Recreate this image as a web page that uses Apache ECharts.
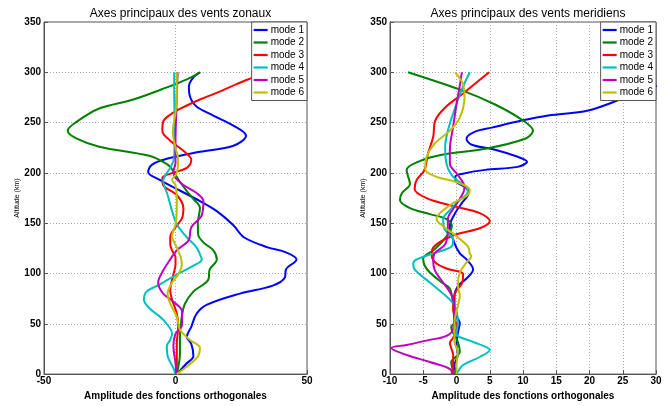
<!DOCTYPE html>
<html>
<head>
<meta charset="utf-8">
<script src="https://cdn.jsdelivr.net/npm/echarts@6/dist/echarts.min.js"></script>
<style>html,body{margin:0;padding:0;background:#fff}#c{width:670px;height:406px}</style>
</head>
<body>
<div id="c"></div>
<script>
// ---------- DATA ----------
const modeNames = ['mode 1','mode 2','mode 3','mode 4','mode 5','mode 6'];
const titles = ['Axes principaux des vents zonaux','Axes principaux des vents meridiens'];
const xName = 'Amplitude des fonctions orthogonales';
const yName = 'Altitude (km)';

// Zonal winds (left panel): altitude (km) and amplitude
const zonalAlt1 = [0,10,18,30,37,47,60,69,80,88,96,104,114,121,126,136,148,162,172,182,193,201,208,214,221,227,237,247,257,266,276,286,295,300];
const zonalMode1 = [0.5,4,6.8,6,4.3,6,8,12,24.5,37,41.6,42,46,42,35,26,22,15.7,9.3,2,-6,-10.4,-9,-3.3,9.3,22,26.8,22,14.4,8,5.5,5.1,6.8,9.3];
const zonalAlt2 = [0,21,37,57,70,82,94,104,114,123,131,139,150,165,175,182,190,198,206,211,217,226,234,242,251,264,273,285,293,300];
const zonalMode2 = [0.5,1.7,1.7,2.4,3.6,6.8,12.5,13,15.7,14.4,10.6,8.6,8.5,9.3,6.5,4.3,2,0,-2,-4.7,-10,-29,-37.5,-41,-37.5,-29,-16,-3.3,4.3,9.3];
const zonalAlt3 = [0,8,30,47,60,74,83,99,109,116,123,129,136,146,155,165,178,188,195,200,205,213,222,232,242,251,260,267,273,281,288,295,300];
const zonalMode3 = [0.5,0.5,0.5,1,0.5,-1.3,-2,-0.8,0,0,-1.3,-2,-2,0,2.5,3,0.5,-4.7,-5,-1,4.3,6,3,-2,-5,-4.7,-0.8,4.3,9.3,17,23,29.5,34];
const zonalAlt4 = [0,6,18,28,34,40,54,65,74,82,89,99,108,114,119,126,136,149,162,178,185,192,200,205,215,250,280,300];
const zonalMode4 = [0,-0.8,-3,-3.3,-2,-1.3,-4.7,-9.7,-12,-11,-6,0.5,7,10,9.3,8,4.3,0.5,-1.3,-3,-4,-4.7,-3.3,-2,-0.5,-0.3,-0.5,-0.5];
const zonalAlt5 = [0,11,28,40,49,62,72,80,91,103,114,123,133,146,158,172,180,188,195,201,210,232,260,300];
const zonalMode5 = [0.3,0,-0.8,0,2.5,2.5,-0.8,-4.7,-6.6,-4.7,-2,0.5,5,6,10,10.6,8,3,0,-0.8,0,0,0.3,0.8];
const zonalAlt6 = [0,10,18,26,34,44,57,70,80,91,99,109,116,126,137,149,162,175,188,193,200,214,225,241,260,280,300];
const zonalMode6 = [0.5,5.5,8.6,9.3,5.5,1.7,0.5,-2,-3,-1.3,1,2.4,2,0.5,-1.3,0,0.5,0.5,0,-1.3,0.5,1,0,-1,0,0.5,0.5];

// Meridional winds (right panel)
const meridAlt1 = [0,9,19,29,41,51,61,78,88,95,104,114,120,130,147,160,170,180,185,191,196,199,203,206,211,216,223,228,234,241,245,252,257,262,275,285,300];
const meridMode1 = [0,-0.3,0.2,0,0.2,0.5,-0.3,-0.3,0.3,1.5,2.5,1.5,0.5,-0.3,-1,-0.2,0.8,1.8,1.5,0,-0.2,0.8,4.3,9.2,10.6,9.2,5.8,2.3,1.5,2.8,5.3,9.8,13.8,19.8,25.4,29.5,36];
const meridAlt2 = [0,12,16,22,32,47,51,68,85,91,101,108,115,124,137,147,154,159,165,173,180,189,197,203,211,218,224,234,242,253,268,282,300];
const meridMode2 = [-0.3,-0.8,-0.3,0.5,0.2,-0.8,-0.3,-0.5,-1,-2.2,-4,-4.8,-5,-3.3,-1.5,-0.7,-1.5,-4,-7,-8.5,-8.2,-7,-7.3,-7.5,-5.8,-2.2,4.3,10.3,11.5,9.8,5.8,0.8,-7.3];
const meridAlt3 = [0,19,26,31,36,46,65,81,90,99,105,110,117,122,130,139,145,152,160,167,175,184,193,203,219,236,252,265,278,300];
const meridMode3 = [-0.5,-0.5,-0.8,-1,-0.5,0,-0.5,-0.2,0.8,1,-1.5,-3,-3.7,-3.7,-2.8,0,3.5,5,3.5,-0.5,-4.5,-6.3,-6,-4.8,-4.3,-3.5,-3.2,-1.7,0.8,4.9];
const meridAlt4 = [0,9,17,24,32,40,51,68,80,91,104,110,114,120,127,134,144,154,163,173,181,186,196,209,226,242,265,283,300];
const meridMode4 = [0,1,3.5,5,2.5,0,0.2,-0.3,-2,-4,-6.3,-6.5,-6,-3.5,-0.7,-0.5,-1.8,-2,-1,0.5,1.7,1.5,-0.5,-1.5,-1.7,-1.3,-0.2,0.8,2];
const meridAlt5 = [0,4,12,19,26,29,34,38,45,65,78,91,98,104,112,120,129,144,154,167,180,186,198,209,223,246,268,287,300];
const meridMode5 = [-0.7,-0.8,-4,-7.5,-9.8,-7.5,-4,-1.5,-0.5,-0.3,-0.7,-2,-2.8,-3.3,-3.5,-3.3,-1.7,-1.3,-1.3,-0.2,1,1.2,0.2,-1,-1,-0.5,0,0.5,0.8];
const meridAlt6 = [0,9,22,32,51,68,78,88,101,111,117,120,127,137,147,154,160,170,177,183,191,196,204,216,229,242,255,275,288,300];
const meridMode6 = [0,0,0.2,-0.3,-0.3,0.2,0.5,0.2,0.5,1.5,2.2,2,1.7,0,-2,-3,-2.5,-0.5,1.5,2,0,-3,-4.7,-4.5,-3.3,-1,0.5,1.2,1,-0.2];

const zonalX = {min:-50, max:50, interval:50};
const meridX = {min:-10, max:30, interval:5};
const yAxisRange = {min:0, max:350, interval:50};

// ---------- STYLE ----------
const colors = ['#0000ff','#008000','#ff0000','#00bfbf','#bf00bf','#bfbf00'];
const font = 'Liberation Sans, Arial, Helvetica, sans-serif';

const zonal = [[zonalAlt1,zonalMode1],[zonalAlt2,zonalMode2],[zonalAlt3,zonalMode3],[zonalAlt4,zonalMode4],[zonalAlt5,zonalMode5],[zonalAlt6,zonalMode6]];
const merid = [[meridAlt1,meridMode1],[meridAlt2,meridMode2],[meridAlt3,meridMode3],[meridAlt4,meridMode4],[meridAlt5,meridMode5],[meridAlt6,meridMode6]];

const pairs = (alt, val) => alt.map((a, i) => [val[i], a]);

const grids = [
  {left:44, right:363, top:22, bottom:28, show:true, borderColor:'#555', borderWidth:1, backgroundColor:'#fff'},
  {left:390, right:14, top:22, bottom:28, show:true, borderColor:'#555', borderWidth:1, backgroundColor:'#fff'}
];

function xAxisDef(idx, r) {
  return {
    type:'value', gridIndex:idx, min:r.min, max:r.max, interval:r.interval,
    name:xName, nameLocation:'middle', nameGap:15,
    nameTextStyle:{fontFamily:font, fontSize:10, fontWeight:'bold', color:'#000'},
    axisLine:{show:true, onZero:false, lineStyle:{color:'#555'}},
    axisTick:{show:true, inside:true, length:4, lineStyle:{color:'#555'}},
    axisLabel:{fontFamily:font, fontSize:10, fontWeight:'bold', color:'#000', margin:2},
    splitLine:{show:true, lineStyle:{color:'#aaa', type:[1,2], width:1}}
  };
}
function yAxisDef(idx) {
  return {
    type:'value', gridIndex:idx, min:yAxisRange.min, max:yAxisRange.max, interval:yAxisRange.interval,
    name:yName, nameLocation:'middle', nameGap:20,
    nameTextStyle:{fontFamily:font, fontSize:7, color:'#000'},
    axisLine:{show:true, onZero:false, lineStyle:{color:'#555'}},
    axisTick:{show:true, inside:true, length:4, lineStyle:{color:'#555'}},
    axisLabel:{fontFamily:font, fontSize:10, fontWeight:'bold', color:'#000', margin:3},
    splitLine:{show:true, lineStyle:{color:'#aaa', type:[1,2], width:1}}
  };
}
function legendDef(right) {
  return {
    data:modeNames, orient:'vertical', right:right, top:22,
    icon:'path://M0,0H14V2.2H0Z', symbolKeepAspect:true,
    backgroundColor:'#fff', borderColor:'#555', borderWidth:1, borderRadius:0,
    padding:[3,3,3,2], itemWidth:14, itemHeight:10, itemGap:2.5,
    textStyle:{fontFamily:font, fontSize:10, color:'#000', lineHeight:10, padding:[0,0,0,-2]},
    selectedMode:false, z:10
  };
}

const series = [];
zonal.forEach((d, i) => series.push({
  name:modeNames[i], type:'line', xAxisIndex:0, yAxisIndex:0,
  data:pairs(d[0], d[1]), smooth:0.35, symbol:'none',
  lineStyle:{width:2, color:colors[i]}, itemStyle:{color:colors[i]}, clip:true
}));
merid.forEach((d, i) => series.push({
  name:modeNames[i], type:'line', xAxisIndex:1, yAxisIndex:1,
  data:pairs(d[0], d[1]), smooth:0.35, symbol:'none',
  lineStyle:{width:2, color:colors[i]}, itemStyle:{color:colors[i]}, clip:true
}));

const chart = echarts.init(document.getElementById('c'), null, {renderer:'canvas'});
chart.setOption({
  animation:false,
  backgroundColor:'#fff',
  title:[
    {text:titles[0], left:175.5, top:3, textAlign:'center', textStyle:{fontFamily:font, fontSize:12, fontWeight:'normal', color:'#000'}},
    {text:titles[1], left:523, top:3, textAlign:'center', textStyle:{fontFamily:font, fontSize:12, fontWeight:'normal', color:'#000'}}
  ],
  legend:[legendDef(363), legendDef(14)],
  grid:grids,
  xAxis:[xAxisDef(0, zonalX), xAxisDef(1, meridX)],
  yAxis:[yAxisDef(0), yAxisDef(1)],
  series:series
});
</script>
</body>
</html>
